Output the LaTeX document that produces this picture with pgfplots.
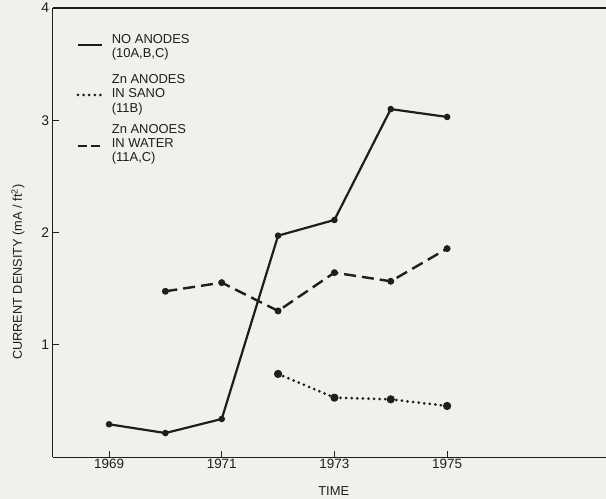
\documentclass[border=0pt]{standalone}
\usepackage{pgfplots}
\pgfplotsset{compat=1.18}
\usepackage{fontspec}
\setmainfont{Liberation Sans}
\definecolor{bg}{RGB}{241,240,235}
\definecolor{ink}{RGB}{30,30,30}
\tikzset{
  solidser/.style={ink, line width=2.2bp},
  dotser/.style={ink, line width=3bp, line cap=round, dash pattern=on 0bp off 5.6bp},
  dashser/.style={ink, line width=2.4bp, dash pattern=on 12bp off 6bp},
}
\begin{document}
\begin{tikzpicture}
\fill[bg] (-52.7bp,-41.7bp) rectangle (553.3bp,457.3bp);
\useasboundingbox (-52.7bp,-41.7bp) rectangle (553.3bp,457.3bp);
\begin{axis}[
  at={(0,0)}, anchor=south west,
  scale only axis, width=553.3bp, height=449.3bp,
  xmin=1968, xmax=1977.82, ymin=0, ymax=4,
  axis x line=box, axis y line=left,
  axis line style={-, ink, line width=1.2bp},
  xtick={1969,1971,1973,1975}, ytick={1,2,3,4},
  xtick pos=lower, ytick pos=lower,
  tick align=inside, major tick length=6bp,
  tick style={ink, line width=1bp},
  /pgf/number format/assume math mode=true,
  /pgf/number format/1000 sep={},
  xticklabel style={font=\fontsize{13.5}{14}\selectfont, text=ink, yshift=2bp},
  yticklabel style={font=\fontsize{14}{14}\selectfont, text=ink},
  every axis x label/.style={at={(axis description cs:0.508,-0.0755)}, anchor=center, font=\fontsize{13}{14}\selectfont, text=ink},
  every axis y label/.style={at={(axis description cs:-0.0627,0.412)}, anchor=center, rotate=90, font=\fontsize{12.8}{14}\selectfont, text=ink},
  xlabel={TIME},
  ylabel={CURRENT DENSITY (mA / ft\textsuperscript{2})},
]
\addplot[solidser, mark=*, mark size=2.1bp, mark options={solid, fill=ink}]
  coordinates {(1969,0.294) (1970,0.216) (1971,0.341) (1972,1.973) (1973,2.113) (1974,3.10) (1975,3.03)};
\addplot[dotser, mark=*, mark size=2.5bp, mark options={solid, fill=ink}]
  coordinates {(1972,0.742) (1973,0.531) (1974,0.516) (1975,0.457)};
\addplot[dashser, mark=*, mark size=2.2bp, mark options={solid, fill=ink}]
  coordinates {(1970,1.478) (1971,1.555) (1972,1.303) (1973,1.644) (1974,1.567) (1975,1.858)};
% legend
\draw[solidser] (axis description cs:0.0457,0.9176) -- (axis description cs:0.0891,0.9176);
\draw[dotser] (axis description cs:0.0457,0.8064) -- (axis description cs:0.0891,0.8064);
\draw[dashser, line width=2.8bp, dash pattern=on 9bp off 4bp] (axis description cs:0.0457,0.6929) -- (axis description cs:0.0891,0.6929);
\begin{scope}[every node/.style={anchor=west, inner sep=0pt, text=ink, font=\fontsize{13}{14.3}\selectfont}]
\node at (axis description cs:0.1066,0.9112) {\begin{tabular}{@{}l@{}}NO ANODES\\(10A,B,C)\end{tabular}};
\node at (axis description cs:0.1066,0.8061) {\begin{tabular}{@{}l@{}}Zn ANODES\\IN SANO\\(11B)\end{tabular}};
\node at (axis description cs:0.1066,0.6964) {\begin{tabular}{@{}l@{}}Zn ANOOES\\IN WATER\\(11A,C)\end{tabular}};
\end{scope}
\end{axis}
\end{tikzpicture}
\end{document}
